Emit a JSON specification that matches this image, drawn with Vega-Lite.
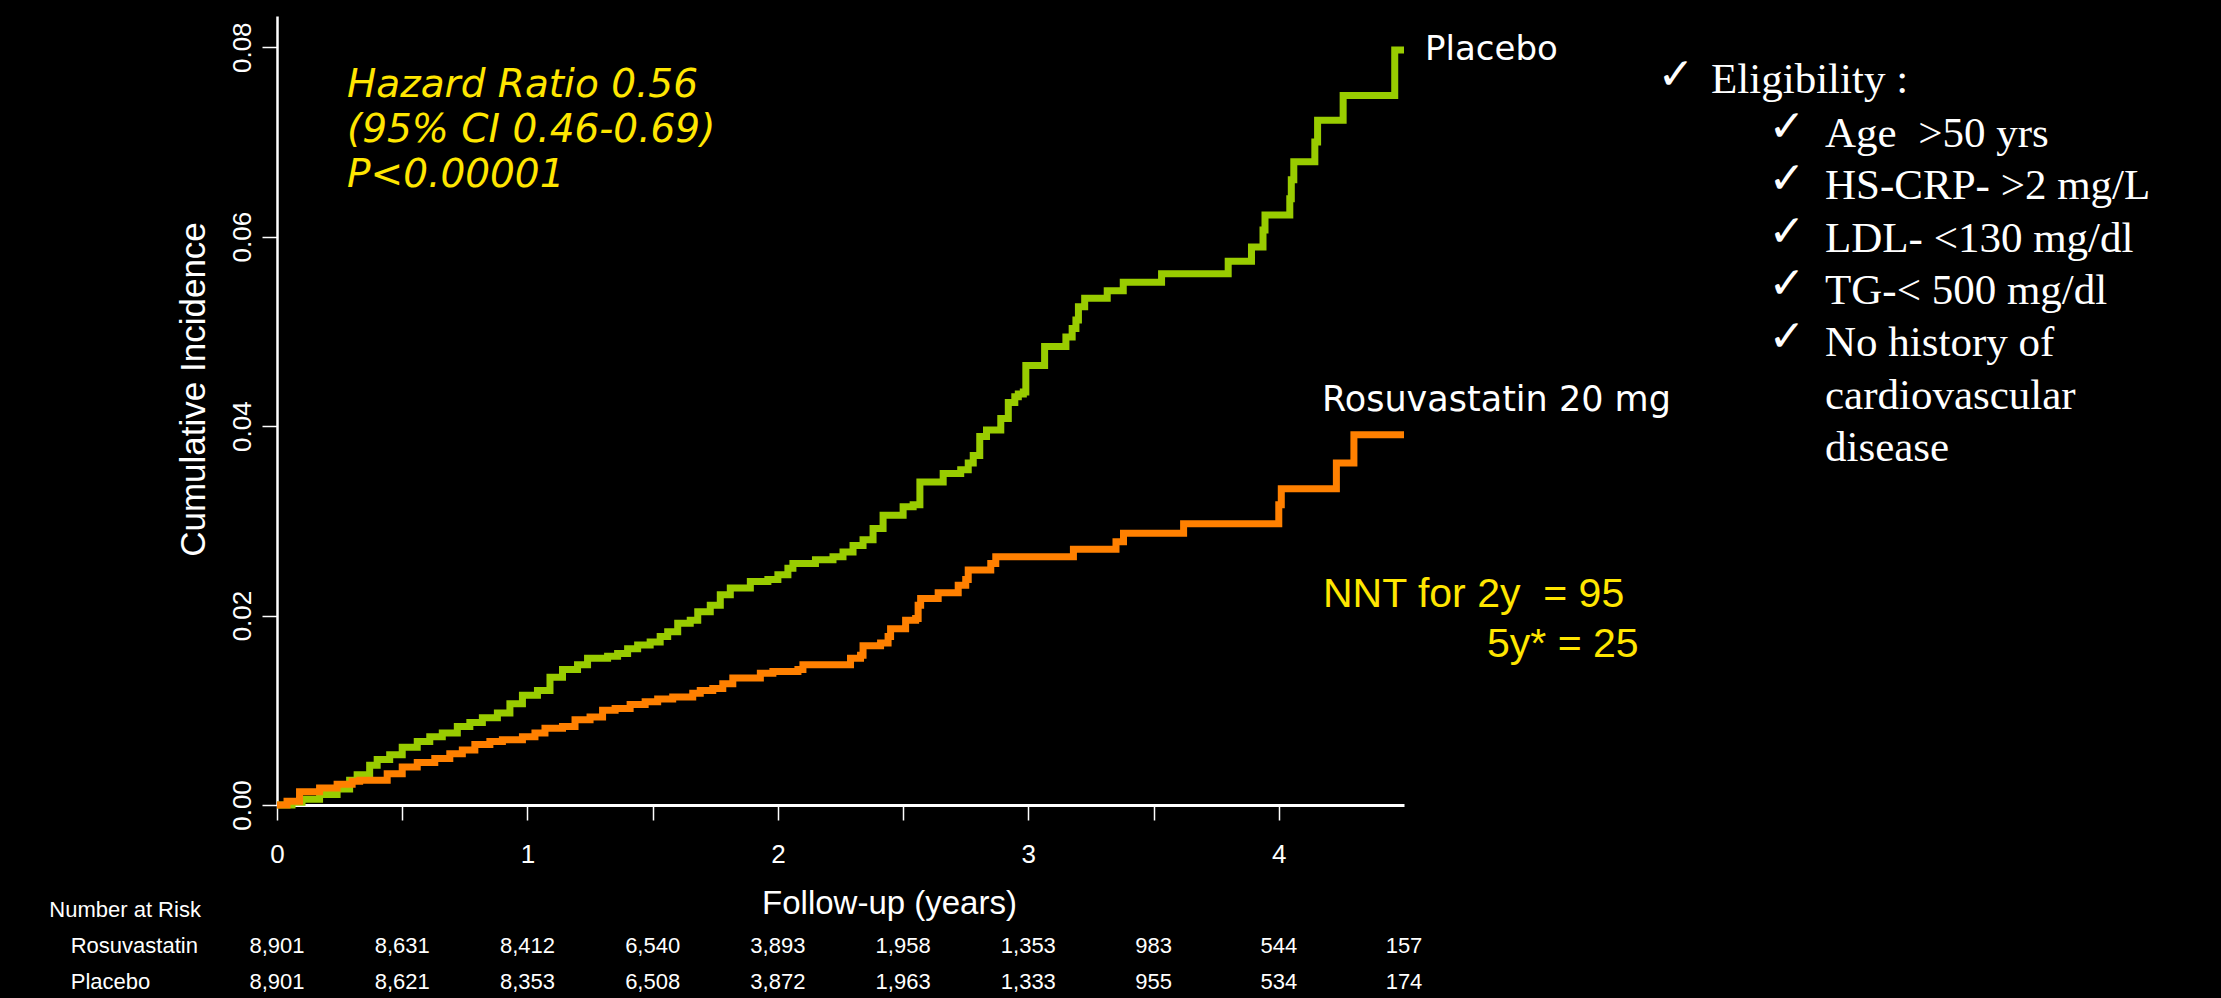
{
  "$schema": "https://vega.github.io/schema/vega-lite/v6.json",
  "width": 1127,
  "height": 789,
  "autosize": {"type": "none"},
  "padding": {"left": 277, "top": 16, "right": 817, "bottom": 193},
  "background": "#000000",
  "config": {"view": {"stroke": null}, "text": {"font": "Liberation Sans"}},
  "datasets": {
    "km": [
      {"group": "Placebo", "t": 0, "v": 0},
      {"group": "Placebo", "t": 0.06, "v": 0.0003},
      {"group": "Placebo", "t": 0.10, "v": 0.0006},
      {"group": "Placebo", "t": 0.17, "v": 0.0011},
      {"group": "Placebo", "t": 0.24, "v": 0.0017},
      {"group": "Placebo", "t": 0.29, "v": 0.0026},
      {"group": "Placebo", "t": 0.32, "v": 0.0032},
      {"group": "Placebo", "t": 0.37, "v": 0.0042},
      {"group": "Placebo", "t": 0.40, "v": 0.0048},
      {"group": "Placebo", "t": 0.45, "v": 0.0053},
      {"group": "Placebo", "t": 0.50, "v": 0.0061},
      {"group": "Placebo", "t": 0.56, "v": 0.0067},
      {"group": "Placebo", "t": 0.61, "v": 0.0072},
      {"group": "Placebo", "t": 0.66, "v": 0.0076},
      {"group": "Placebo", "t": 0.72, "v": 0.0083},
      {"group": "Placebo", "t": 0.77, "v": 0.0087},
      {"group": "Placebo", "t": 0.82, "v": 0.0092},
      {"group": "Placebo", "t": 0.88, "v": 0.0097},
      {"group": "Placebo", "t": 0.93, "v": 0.0107},
      {"group": "Placebo", "t": 0.98, "v": 0.0116},
      {"group": "Placebo", "t": 1.04, "v": 0.0121},
      {"group": "Placebo", "t": 1.09, "v": 0.0135},
      {"group": "Placebo", "t": 1.14, "v": 0.0143},
      {"group": "Placebo", "t": 1.20, "v": 0.0148},
      {"group": "Placebo", "t": 1.24, "v": 0.0155},
      {"group": "Placebo", "t": 1.32, "v": 0.0157},
      {"group": "Placebo", "t": 1.36, "v": 0.0160},
      {"group": "Placebo", "t": 1.40, "v": 0.0165},
      {"group": "Placebo", "t": 1.44, "v": 0.0169},
      {"group": "Placebo", "t": 1.49, "v": 0.0172},
      {"group": "Placebo", "t": 1.53, "v": 0.0178},
      {"group": "Placebo", "t": 1.56, "v": 0.0183},
      {"group": "Placebo", "t": 1.60, "v": 0.0192},
      {"group": "Placebo", "t": 1.65, "v": 0.0195},
      {"group": "Placebo", "t": 1.68, "v": 0.0204},
      {"group": "Placebo", "t": 1.73, "v": 0.0211},
      {"group": "Placebo", "t": 1.77, "v": 0.0222},
      {"group": "Placebo", "t": 1.81, "v": 0.0229},
      {"group": "Placebo", "t": 1.89, "v": 0.0236},
      {"group": "Placebo", "t": 1.96, "v": 0.0238},
      {"group": "Placebo", "t": 2.00, "v": 0.0243},
      {"group": "Placebo", "t": 2.04, "v": 0.0250},
      {"group": "Placebo", "t": 2.06, "v": 0.0255},
      {"group": "Placebo", "t": 2.15, "v": 0.0259},
      {"group": "Placebo", "t": 2.22, "v": 0.0262},
      {"group": "Placebo", "t": 2.26, "v": 0.0267},
      {"group": "Placebo", "t": 2.30, "v": 0.0274},
      {"group": "Placebo", "t": 2.34, "v": 0.0280},
      {"group": "Placebo", "t": 2.38, "v": 0.0292},
      {"group": "Placebo", "t": 2.42, "v": 0.0306},
      {"group": "Placebo", "t": 2.50, "v": 0.0315},
      {"group": "Placebo", "t": 2.54, "v": 0.0317},
      {"group": "Placebo", "t": 2.567, "v": 0.0341},
      {"group": "Placebo", "t": 2.66, "v": 0.0350},
      {"group": "Placebo", "t": 2.73, "v": 0.0354},
      {"group": "Placebo", "t": 2.76, "v": 0.0361},
      {"group": "Placebo", "t": 2.78, "v": 0.0369},
      {"group": "Placebo", "t": 2.806, "v": 0.0389},
      {"group": "Placebo", "t": 2.833, "v": 0.0396},
      {"group": "Placebo", "t": 2.89, "v": 0.0408},
      {"group": "Placebo", "t": 2.92, "v": 0.0425},
      {"group": "Placebo", "t": 2.946, "v": 0.0431},
      {"group": "Placebo", "t": 2.96, "v": 0.0434},
      {"group": "Placebo", "t": 2.98, "v": 0.0436},
      {"group": "Placebo", "t": 2.99, "v": 0.0464},
      {"group": "Placebo", "t": 3.065, "v": 0.0484},
      {"group": "Placebo", "t": 3.15, "v": 0.0494},
      {"group": "Placebo", "t": 3.175, "v": 0.0503},
      {"group": "Placebo", "t": 3.19, "v": 0.0512},
      {"group": "Placebo", "t": 3.20, "v": 0.0526},
      {"group": "Placebo", "t": 3.225, "v": 0.0535},
      {"group": "Placebo", "t": 3.315, "v": 0.0543},
      {"group": "Placebo", "t": 3.379, "v": 0.0552},
      {"group": "Placebo", "t": 3.532, "v": 0.0561},
      {"group": "Placebo", "t": 3.798, "v": 0.0574},
      {"group": "Placebo", "t": 3.891, "v": 0.0589},
      {"group": "Placebo", "t": 3.937, "v": 0.0607},
      {"group": "Placebo", "t": 3.945, "v": 0.0623},
      {"group": "Placebo", "t": 4.044, "v": 0.0640},
      {"group": "Placebo", "t": 4.05, "v": 0.0660},
      {"group": "Placebo", "t": 4.06, "v": 0.0679},
      {"group": "Placebo", "t": 4.144, "v": 0.0700},
      {"group": "Placebo", "t": 4.155, "v": 0.0723},
      {"group": "Placebo", "t": 4.257, "v": 0.0749},
      {"group": "Placebo", "t": 4.463, "v": 0.0797},
      {"group": "Placebo", "t": 4.5, "v": 0.0797},
      {"group": "Rosuvastatin", "t": 0, "v": 0},
      {"group": "Rosuvastatin", "t": 0.04, "v": 0.0004},
      {"group": "Rosuvastatin", "t": 0.09, "v": 0.0014},
      {"group": "Rosuvastatin", "t": 0.17, "v": 0.0018},
      {"group": "Rosuvastatin", "t": 0.24, "v": 0.0022},
      {"group": "Rosuvastatin", "t": 0.30, "v": 0.0025},
      {"group": "Rosuvastatin", "t": 0.33, "v": 0.0026},
      {"group": "Rosuvastatin", "t": 0.44, "v": 0.0033},
      {"group": "Rosuvastatin", "t": 0.50, "v": 0.0040},
      {"group": "Rosuvastatin", "t": 0.56, "v": 0.0045},
      {"group": "Rosuvastatin", "t": 0.63, "v": 0.0049},
      {"group": "Rosuvastatin", "t": 0.69, "v": 0.0054},
      {"group": "Rosuvastatin", "t": 0.74, "v": 0.0058},
      {"group": "Rosuvastatin", "t": 0.79, "v": 0.0064},
      {"group": "Rosuvastatin", "t": 0.85, "v": 0.0067},
      {"group": "Rosuvastatin", "t": 0.90, "v": 0.0069},
      {"group": "Rosuvastatin", "t": 0.98, "v": 0.0072},
      {"group": "Rosuvastatin", "t": 1.03, "v": 0.0076},
      {"group": "Rosuvastatin", "t": 1.07, "v": 0.0081},
      {"group": "Rosuvastatin", "t": 1.14, "v": 0.0083},
      {"group": "Rosuvastatin", "t": 1.19, "v": 0.0090},
      {"group": "Rosuvastatin", "t": 1.25, "v": 0.0093},
      {"group": "Rosuvastatin", "t": 1.30, "v": 0.0100},
      {"group": "Rosuvastatin", "t": 1.35, "v": 0.0102},
      {"group": "Rosuvastatin", "t": 1.41, "v": 0.0106},
      {"group": "Rosuvastatin", "t": 1.47, "v": 0.0109},
      {"group": "Rosuvastatin", "t": 1.52, "v": 0.0112},
      {"group": "Rosuvastatin", "t": 1.58, "v": 0.0114},
      {"group": "Rosuvastatin", "t": 1.66, "v": 0.0118},
      {"group": "Rosuvastatin", "t": 1.69, "v": 0.0121},
      {"group": "Rosuvastatin", "t": 1.74, "v": 0.0123},
      {"group": "Rosuvastatin", "t": 1.78, "v": 0.0128},
      {"group": "Rosuvastatin", "t": 1.82, "v": 0.0134},
      {"group": "Rosuvastatin", "t": 1.93, "v": 0.0139},
      {"group": "Rosuvastatin", "t": 1.98, "v": 0.0141},
      {"group": "Rosuvastatin", "t": 2.08, "v": 0.0143},
      {"group": "Rosuvastatin", "t": 2.10, "v": 0.0148},
      {"group": "Rosuvastatin", "t": 2.29, "v": 0.0155},
      {"group": "Rosuvastatin", "t": 2.33, "v": 0.0158},
      {"group": "Rosuvastatin", "t": 2.34, "v": 0.0168},
      {"group": "Rosuvastatin", "t": 2.41, "v": 0.0171},
      {"group": "Rosuvastatin", "t": 2.44, "v": 0.0178},
      {"group": "Rosuvastatin", "t": 2.45, "v": 0.0186},
      {"group": "Rosuvastatin", "t": 2.51, "v": 0.0195},
      {"group": "Rosuvastatin", "t": 2.55, "v": 0.0197},
      {"group": "Rosuvastatin", "t": 2.56, "v": 0.0211},
      {"group": "Rosuvastatin", "t": 2.57, "v": 0.0218},
      {"group": "Rosuvastatin", "t": 2.64, "v": 0.0224},
      {"group": "Rosuvastatin", "t": 2.72, "v": 0.0232},
      {"group": "Rosuvastatin", "t": 2.75, "v": 0.0238},
      {"group": "Rosuvastatin", "t": 2.76, "v": 0.0248},
      {"group": "Rosuvastatin", "t": 2.85, "v": 0.0255},
      {"group": "Rosuvastatin", "t": 2.87, "v": 0.0262},
      {"group": "Rosuvastatin", "t": 3.18, "v": 0.0270},
      {"group": "Rosuvastatin", "t": 3.35, "v": 0.0278},
      {"group": "Rosuvastatin", "t": 3.38, "v": 0.0287},
      {"group": "Rosuvastatin", "t": 3.62, "v": 0.0297},
      {"group": "Rosuvastatin", "t": 4.00, "v": 0.0317},
      {"group": "Rosuvastatin", "t": 4.01, "v": 0.0334},
      {"group": "Rosuvastatin", "t": 4.23, "v": 0.0361},
      {"group": "Rosuvastatin", "t": 4.30, "v": 0.0391},
      {"group": "Rosuvastatin", "t": 4.5, "v": 0.0391}
    ],
    "risk": [
      {"group": "Rosuvastatin", "t": 0, "n": 8901},
      {"group": "Rosuvastatin", "t": 0.5, "n": 8631},
      {"group": "Rosuvastatin", "t": 1, "n": 8412},
      {"group": "Rosuvastatin", "t": 1.5, "n": 6540},
      {"group": "Rosuvastatin", "t": 2, "n": 3893},
      {"group": "Rosuvastatin", "t": 2.5, "n": 1958},
      {"group": "Rosuvastatin", "t": 3, "n": 1353},
      {"group": "Rosuvastatin", "t": 3.5, "n": 983},
      {"group": "Rosuvastatin", "t": 4, "n": 544},
      {"group": "Rosuvastatin", "t": 4.5, "n": 157},
      {"group": "Placebo", "t": 0, "n": 8901},
      {"group": "Placebo", "t": 0.5, "n": 8621},
      {"group": "Placebo", "t": 1, "n": 8353},
      {"group": "Placebo", "t": 1.5, "n": 6508},
      {"group": "Placebo", "t": 2, "n": 3872},
      {"group": "Placebo", "t": 2.5, "n": 1963},
      {"group": "Placebo", "t": 3, "n": 1333},
      {"group": "Placebo", "t": 3.5, "n": 955},
      {"group": "Placebo", "t": 4, "n": 534},
      {"group": "Placebo", "t": 4.5, "n": 174}
    ]
  },
  "resolve": {"scale": {"y": "independent"}},
  "layer": [
    {
      "layer": [
        {
          "data": {"name": "km"},
          "mark": {"type": "line", "interpolate": "step-after", "strokeWidth": 7},
          "encoding": {
            "x": {
              "field": "t", "type": "quantitative",
              "scale": {"domain": [0, 4.5], "nice": false, "zero": false},
              "axis": {
                "title": "Follow-up (years)",
                "values": [0, 0.5, 1, 1.5, 2, 2.5, 3, 3.5, 4],
                "labelExpr": "datum.value % 1 === 0 ? format(datum.value, 'd') : ''",
                "grid": false,
                "domainColor": "#FFFFFF", "domainWidth": 3,
                "tickColor": "#FFFFFF", "tickWidth": 1.5, "tickSize": 15,
                "labelColor": "#FFFFFF", "labelFont": "Liberation Sans", "labelFontSize": 26,
                "labelBaseline": "alphabetic", "labelPadding": 42,
                "labelFlush": false, "labelOverlap": false,
                "titleColor": "#FFFFFF", "titleFont": "Liberation Sans", "titleFontSize": 33,
                "titleFontWeight": "normal", "titleX": 612, "titleY": 108,
                "titleBaseline": "alphabetic", "titleAlign": "center"
              }
            },
            "y": {
              "field": "v", "type": "quantitative",
              "scale": {"domain": [0, 0.0833], "nice": false, "zero": false},
              "axis": {
                "title": "Cumulative Incidence",
                "values": [0, 0.02, 0.04, 0.06, 0.08],
                "format": ".2f",
                "grid": false,
                "domainColor": "#FFFFFF", "domainWidth": 2.5,
                "tickColor": "#FFFFFF", "tickWidth": 1.5, "tickSize": 15,
                "labelColor": "#FFFFFF", "labelFont": "Liberation Sans", "labelFontSize": 26,
                "labelAngle": -90, "labelAlign": "center", "labelBaseline": "alphabetic",
                "labelPadding": 12, "labelOverlap": false,
                "titleColor": "#FFFFFF", "titleFont": "Liberation Sans", "titleFontSize": 35,
                "titleFontWeight": "normal", "titleAngle": -90, "titleX": -73, "titleY": 373,
                "titleBaseline": "alphabetic", "titleAlign": "center"
              }
            },
            "color": {
              "field": "group", "type": "nominal",
              "scale": {"domain": ["Placebo", "Rosuvastatin"], "range": ["#99CC00", "#FF8000"]},
              "legend": null
            }
          }
        },
        {
          "data": {"values": [{}]},
          "mark": {"type": "text", "font": "DejaVu Sans", "fontStyle": "italic", "fontSize": 39, "color": "#FFE600", "align": "left", "baseline": "alphabetic", "lineHeight": 45},
          "encoding": {
            "x": {"datum": 0.2795, "type": "quantitative"},
            "y": {"datum": 0.07475, "type": "quantitative"},
            "text": {"value": ["Hazard Ratio 0.56", "(95% CI 0.46-0.69)", "P<0.00001"]}
          }
        },
        {
          "data": {"values": [{}]},
          "mark": {"type": "text", "font": "DejaVu Sans", "fontSize": 34, "color": "#FFFFFF", "align": "left", "baseline": "alphabetic"},
          "encoding": {
            "x": {"datum": 4.5839, "type": "quantitative"},
            "y": {"datum": 0.07865, "type": "quantitative"},
            "text": {"value": "Placebo"}
          }
        },
        {
          "data": {"values": [{}]},
          "mark": {"type": "text", "font": "DejaVu Sans", "fontSize": 35, "color": "#FFFFFF", "align": "left", "baseline": "alphabetic"},
          "encoding": {
            "x": {"datum": 4.1726, "type": "quantitative"},
            "y": {"datum": 0.04165, "type": "quantitative"},
            "text": {"value": "Rosuvastatin 20 mg"}
          }
        },
        {
          "data": {"values": [{}]},
          "mark": {"type": "text", "font": "Liberation Sans", "fontSize": 41, "color": "#FFE600", "align": "left", "baseline": "alphabetic"},
          "encoding": {
            "x": {"datum": 4.1766, "type": "quantitative"},
            "y": {"datum": 0.0209, "type": "quantitative"},
            "text": {"value": "NNT for 2y\u00a0 = 95"}
          }
        },
        {
          "data": {"values": [{}]},
          "mark": {"type": "text", "font": "Liberation Sans", "fontSize": 41, "color": "#FFE600", "align": "left", "baseline": "alphabetic"},
          "encoding": {
            "x": {"datum": 4.8314, "type": "quantitative"},
            "y": {"datum": 0.01563, "type": "quantitative"},
            "text": {"value": "5y* = 25"}
          }
        },
        {
          "data": {"values": [{}]},
          "mark": {"type": "text", "font": "DejaVu Sans", "fontSize": 44, "color": "#FFFFFF", "align": "left", "baseline": "alphabetic"},
          "encoding": {
            "x": {"datum": 5.512, "type": "quantitative"},
            "y": {"datum": 0.07559, "type": "quantitative"},
            "text": {"value": "✓"}
          }
        },
        {
          "data": {"values": [{}]},
          "mark": {"type": "text", "font": "Liberation Serif", "fontSize": 43, "color": "#FFFFFF", "align": "left", "baseline": "alphabetic"},
          "encoding": {
            "x": {"datum": 5.726, "type": "quantitative"},
            "y": {"datum": 0.07514, "type": "quantitative"},
            "text": {"value": "Eligibility :"}
          }
        },
        {
          "data": {"values": [{}]},
          "mark": {"type": "text", "font": "DejaVu Sans", "fontSize": 44, "color": "#FFFFFF", "align": "left", "baseline": "alphabetic", "lineHeight": 52.4},
          "encoding": {
            "x": {"datum": 5.955, "type": "quantitative"},
            "y": {"datum": 0.0701, "type": "quantitative"},
            "text": {"value": ["✓", "✓", "✓", "✓", "✓"]}
          }
        },
        {
          "data": {"values": [{}]},
          "mark": {"type": "text", "font": "Liberation Serif", "fontSize": 43, "color": "#FFFFFF", "align": "left", "baseline": "alphabetic", "lineHeight": 52.4},
          "encoding": {
            "x": {"datum": 6.181, "type": "quantitative"},
            "y": {"datum": 0.0695, "type": "quantitative"},
            "text": {"value": ["Age\u00a0 >50 yrs", "HS-CRP- >2 mg/L", "LDL- <130 mg/dl", "TG-< 500 mg/dl", "No history of", "cardiovascular", "disease"]}
          }
        }
      ]
    },
    {
      "layer": [
        {
          "data": {"name": "risk"},
          "mark": {"type": "text", "font": "Liberation Sans", "fontSize": 22, "color": "#FFFFFF", "align": "center", "baseline": "alphabetic"},
          "encoding": {
            "x": {"field": "t", "type": "quantitative", "title": "Follow-up (years)"},
            "y": {
              "field": "group", "type": "ordinal",
              "scale": {"type": "point", "domain": ["Number at Risk", "Rosuvastatin", "Placebo"], "range": [901, 973], "padding": 0},
              "axis": null
            },
            "text": {"field": "n", "type": "quantitative", "format": ","}
          }
        },
        {
          "data": {"name": "risk"},
          "transform": [{"filter": "datum.t === 0"}],
          "mark": {"type": "text", "font": "Liberation Sans", "fontSize": 22, "color": "#FFFFFF", "align": "left", "baseline": "alphabetic"},
          "encoding": {
            "x": {"datum": -0.8237, "type": "quantitative"},
            "y": {"field": "group", "type": "ordinal", "axis": null},
            "text": {"field": "group", "type": "nominal"}
          }
        },
        {
          "data": {"values": [{}]},
          "mark": {"type": "text", "font": "Liberation Sans", "fontSize": 22, "color": "#FFFFFF", "align": "left", "baseline": "alphabetic"},
          "encoding": {
            "x": {"datum": -0.9092, "type": "quantitative"},
            "y": {"datum": "Number at Risk", "type": "ordinal", "axis": null},
            "text": {"value": "Number at Risk"}
          }
        }
      ]
    }
  ]
}
